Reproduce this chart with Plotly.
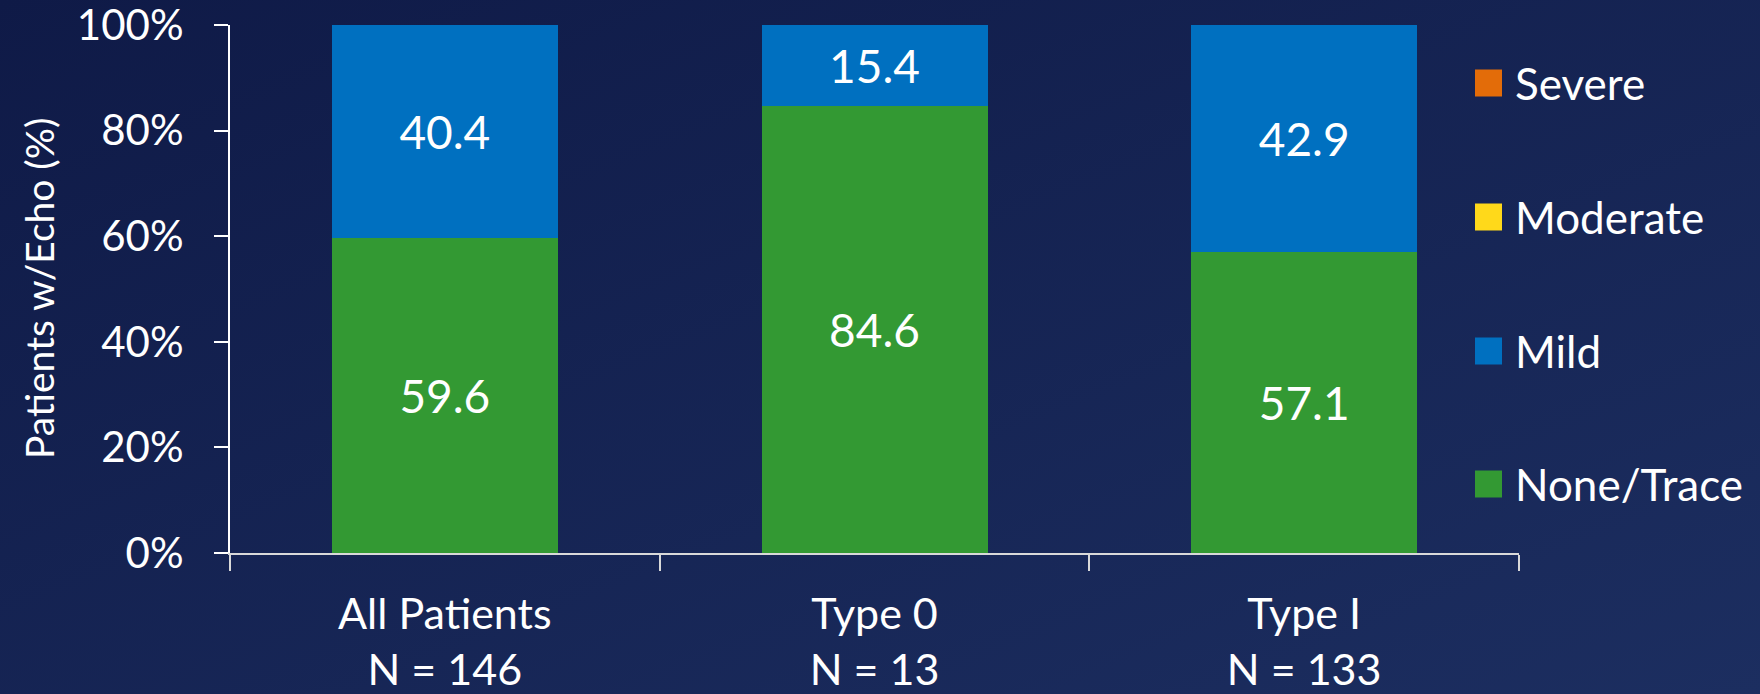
import base64
import plotly.graph_objects as go

# Data
categories = ["All Patients<br>N = 146", "Type 0<br>N = 13", "Type I<br>N = 133"]
none_trace = [59.6, 84.6, 57.1]
mild = [40.4, 15.4, 42.9]
moderate = [0, 0, 0]
severe = [0, 0, 0]

series_names = ["None/Trace", "Mild", "Moderate", "Severe"]
series_values = [none_trace, mild, moderate, severe]
series_colors = ["#339933", "#0070C0", "#FFD91A", "#E36C09"]
y_title = "Patients w/Echo (%)"

W, H = 1760, 694
ML, MR, MT, MB = 230, 241, 25, 141
PW, PH = W - ML - MR, H - MT - MB
FONT = "Lato"

fig = go.Figure()
for name, vals, col in zip(series_names, series_values, series_colors):
    fig.add_trace(go.Bar(
        x=categories, y=vals, name=name,
        marker=dict(color=col, line=dict(width=0)),
        text=[f"{v:.1f}" if v else "" for v in vals],
        textposition="inside", insidetextanchor="middle",
        textfont=dict(color="white", size=46, family=FONT),
        constraintext="none",
        showlegend=False,
    ))

# Background: diagonal navy gradient
svg = f"""<svg xmlns='http://www.w3.org/2000/svg' width='{W}' height='{H}'>
<defs><linearGradient id='g' x1='0' y1='0' x2='1' y2='1'>
<stop offset='0' stop-color='#0f1a47'/><stop offset='1' stop-color='#1c2e60'/>
</linearGradient></defs><rect width='{W}' height='{H}' fill='url(#g)'/></svg>"""
bg_src = "data:image/svg+xml;base64," + base64.b64encode(svg.encode()).decode()

images = [dict(source=bg_src, xref="paper", yref="paper",
               x=-ML / PW, y=1 + MT / PH, sizex=W / PW, sizey=H / PH,
               sizing="stretch", xanchor="left", yanchor="top", layer="below")]

# Legend drawn as squares + labels, top row = last series
shapes, annotations = [], []
row_y = [83, 217, 351, 484]
sq = 27
for i, (name, col) in enumerate(zip(reversed(series_names), reversed(series_colors))):
    cy = row_y[i]
    x0 = (1475 - ML) / PW
    x1 = (1475 + sq - ML) / PW
    y0 = (H - MB - (cy + sq / 2)) / PH
    y1 = (H - MB - (cy - sq / 2)) / PH
    shapes.append(dict(type="rect", xref="paper", yref="paper",
                       x0=x0, x1=x1, y0=y0, y1=y1,
                       fillcolor=col, line=dict(width=0)))
    annotations.append(dict(text=name, xref="paper", yref="paper",
                            x=(1513 - ML) / PW, y=(H - MB - cy) / PH,
                            xanchor="left", yanchor="middle", showarrow=False,
                            font=dict(color="white", size=44, family=FONT)))

# Rotated y-axis title
annotations.append(dict(text=y_title, xref="paper", yref="paper",
                        x=(39 - ML) / PW, y=0.5, xanchor="center", yanchor="middle",
                        textangle=-90, showarrow=False,
                        font=dict(color="white", size=39, family=FONT)))

fig.update_layout(
    width=W, height=H,
    margin=dict(l=ML, r=MR, t=MT, b=MB, autoexpand=False),
    barmode="stack", bargap=0.474,
    paper_bgcolor="#13224f", plot_bgcolor="rgba(0,0,0,0)",
    font=dict(family=FONT, color="white", size=40),
    images=images, shapes=shapes, annotations=annotations,
    showlegend=False,
    xaxis=dict(
        automargin=False, ticklabeloverflow="allow",
        showline=True, linecolor="#d9d9d9", linewidth=2,
        ticks="outside", tickson="boundaries", ticklen=16,
        tickcolor="#d9d9d9", tickwidth=2,
        ticklabelstandoff=22,
        tickfont=dict(size=43, color="white", family=FONT),
        showgrid=False, zeroline=False,
    ),
    yaxis=dict(
        automargin=False, ticklabeloverflow="allow",
        range=[0, 100], dtick=20, ticksuffix="%",
        showline=True, linecolor="white", linewidth=2,
        ticks="outside", ticklen=14, tickcolor="white", tickwidth=2,
        ticklabelstandoff=22,
        tickfont=dict(size=42, color="white", family=FONT),
        showgrid=False, zeroline=False,
    ),
)

fig.write_html("out.html")
